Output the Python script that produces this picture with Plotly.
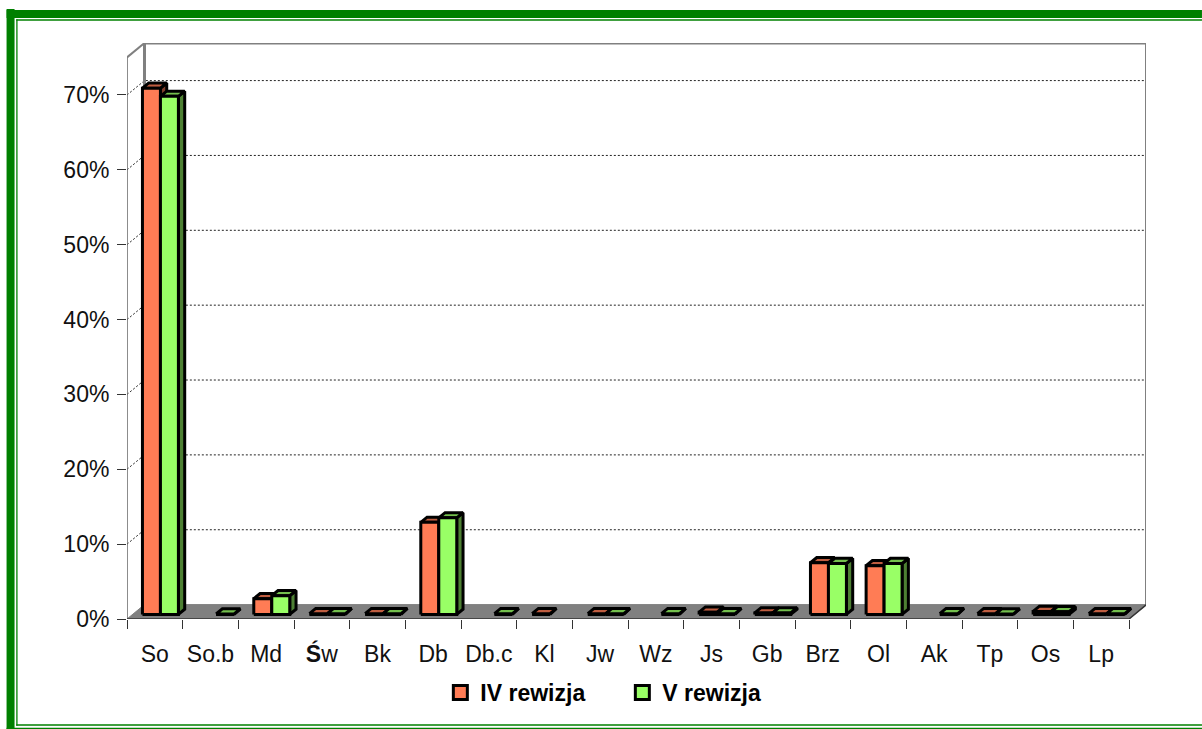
import plotly.graph_objects as go

categories = ["So", "So.b", "Md", "<b>Ś</b>w", "Bk", "Db", "Db.c", "Kl", "Jw", "Wz",
              "Js", "Gb", "Brz", "Ol", "Ak", "Tp", "Os", "Lp"]
iv_rewizja = [70.3, None, 2.1, 0.1, 0.1, 12.3, None, 0.1, 0.1, None,
              0.3, 0.2, 6.9, 6.5, None, 0.1, 0.4, 0.1]
v_rewizja = [69.2, 0.05, 2.5, 0.1, 0.1, 12.9, 0.1, None, 0.1, 0.1,
             0.1, 0.2, 6.8, 6.8, 0.1, 0.05, 0.35, 0.1]
y_ticks = [0, 10, 20, 30, 40, 50, 60, 70]
series_names = ["IV rewizja", "V rewizja"]

W, H = 1202, 729
LEFT, RIGHT, TOP, BOTTOM = 126.5, 1146.0, 43.0, 619.0
UNIT_X = 1002.5 / len(categories)
UNIT_Y = 7.486
DX = 17.5 / UNIT_X          # depth offset in category units
DY = 14.4 / UNIT_Y          # depth offset in percent units
X_MAX = (RIGHT - LEFT) / UNIT_X
Y_MAX = (BOTTOM - TOP) / UNIT_Y
N = len(categories)

FILL = ["#FF7C55", "#99FF66"]
TOPC = ["#BF5D40", "#73BF4D"]
SIDE = ["#803E2B", "#4D8033"]
BAR_W, GAP, Z0, Z1 = 0.323, 0.177, 0.32, 0.68


def pt(x, z, v):
    return x + z * DX, v + z * DY


def faces(values, s):
    front, top, side = ([], []), ([], []), ([], [])
    for i, v in enumerate(values):
        if v is None:
            continue
        a = i + GAP + s * BAR_W
        b = a + BAR_W
        for store, corners in (
            (front, [(a, Z0, 0), (b, Z0, 0), (b, Z0, v), (a, Z0, v)]),
            (top, [(a, Z0, v), (b, Z0, v), (b, Z1, v), (a, Z1, v)]),
            (side, [(b, Z0, 0), (b, Z1, 0), (b, Z1, v), (b, Z0, v)]),
        ):
            pts = [pt(*c) for c in corners]
            pts.append(pts[0])
            store[0].extend([p[0] for p in pts] + [None])
            store[1].extend([p[1] for p in pts] + [None])
    return front, top, side


fig = go.Figure()


def poly(xs, ys, fill=None, color="#000000", width=3, dash=None):
    fig.add_trace(go.Scatter(
        x=xs, y=ys, mode="lines", showlegend=False, hoverinfo="skip", cliponaxis=False,
        fill="toself" if fill else None, fillcolor=fill,
        line=dict(color=color, width=width, dash=dash),
    ))


# floor
poly([0, N, N + DX, DX, 0], [0, 0, DY, DY, 0], fill="#808080", color="#808080", width=1)

# gridlines: short diagonal on the left wall, then across the back wall
gx, gy = [], []
for v in y_ticks[1:]:
    gx += [0, DX, N + DX, None]
    gy += [v, v + DY, v + DY, None]
poly(gx, gy, color="#222222", width=1, dash="2px,2px")

# walls
poly([DX, DX, N + DX, N + DX], [DY, Y_MAX, Y_MAX, DY], color="#808080", width=3)
poly([0, DX], [Y_MAX - DY, Y_MAX], color="#808080", width=2)
poly([0, 0], [0, Y_MAX - DY], color="#666666", width=1.5)
poly([0, N, N + DX], [0, 0, DY], color="#333333", width=1.5)

# bars
for s, values in enumerate([iv_rewizja, v_rewizja]):
    front, top, side = faces(values, s)
    poly(side[0], side[1], fill=SIDE[s])
    poly(top[0], top[1], fill=TOPC[s])
    poly(front[0], front[1], fill=FILL[s])

# legend entries
for s, name in enumerate(series_names):
    fig.add_trace(go.Scatter(
        x=[None], y=[None], mode="markers", name=name,
        marker=dict(symbol="square", size=14, color=FILL[s],
                    line=dict(color="#000000", width=3)),
    ))


def px(v):
    return (v - LEFT) / (RIGHT - LEFT)


def py(v):
    return (BOTTOM - v) / (BOTTOM - TOP)


GREEN = "#008000"
bands = [
    (6, 9, 14, 729), (6, 10, W, 18), (15.7, 19.3, W, 20.7),
    (15.7, 19.3, 17, 725.7), (15.7, 724.3, W, 725.7), (6, 727.7, W, 729),
]
shapes = [dict(type="rect", xref="paper", yref="paper",
               x0=px(a), y0=py(b), x1=px(c), y1=py(d),
               fillcolor=GREEN, line=dict(width=0), layer="above")
          for a, b, c, d in bands]

TICK_FONT = dict(family="Liberation Sans, Arial, sans-serif", size=23, color="#111111")
fig.update_layout(
    width=W, height=H,
    margin=dict(l=LEFT, r=W - RIGHT, t=TOP, b=H - BOTTOM, pad=0, autoexpand=False),
    paper_bgcolor="#ffffff", plot_bgcolor="#ffffff",
    shapes=shapes,
    showlegend=True,
    legend=dict(orientation="h", x=px(440), y=py(671), xanchor="left", yanchor="top",
                entrywidth=137, entrywidthmode="pixels", traceorder="normal",
                font=dict(family="Liberation Sans, Arial, sans-serif", size=23,
                          color="#000000", weight="bold"),
                bgcolor="rgba(0,0,0,0)"),
    xaxis=dict(
        range=[0, X_MAX], tickmode="array",
        tickvals=[i + 0.5 for i in range(N)], ticktext=categories,
        ticks="", tickfont=TICK_FONT, showgrid=False, zeroline=False, showline=False,
        ticklabelstandoff=19,
        minor=dict(ticks="outside", ticklen=9, tickwidth=1, tickcolor="#333333",
                   tick0=0, dtick=1, showgrid=False),
    ),
    yaxis=dict(
        range=[0, Y_MAX], tickmode="array", tickvals=y_ticks,
        ticktext=[f"{v}%" for v in y_ticks],
        ticks="outside", ticklen=9, tickwidth=1, tickcolor="#333333",
        tickfont=TICK_FONT, showgrid=False, zeroline=False, showline=False,
        ticklabelstandoff=3,
    ),
)

fig.write_html("out.html", config=dict(displayModeBar=False),
               post_script="document.body.style.margin='0';document.body.style.overflow='hidden';")
